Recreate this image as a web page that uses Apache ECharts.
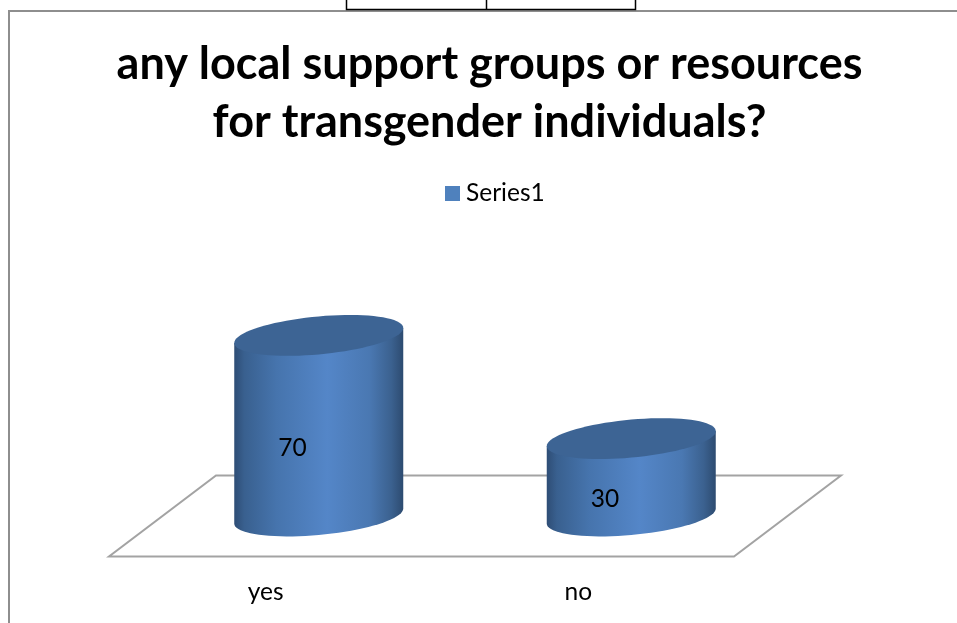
<!DOCTYPE html>
<html>
<head>
<meta charset="utf-8">
<style>
  html, body { margin: 0; padding: 0; background: #fff; }
  #chart { width: 957px; height: 623px; }
</style>
<script src="https://cdn.jsdelivr.net/npm/echarts@6/dist/echarts.min.js"></script>
</head>
<body>
<div id="chart"></div>
<script>
var titleText = "any local support groups or resources\nfor transgender individuals?";
var seriesName = "Series1";
var categories = ["yes", "no"];
var values = [70, 30];

var fontName = "Lato";
var capA = 19; // half height of the ellipse
var capTilt = 7.5; // rise of the ellipse from left to right side
var floorDx = 53.5;
var floorDy = 40.5;

// point on a tilted ellipse
function ellipsePt(cx, cy, a, t) {
  return [cx + a * Math.cos(t), cy + capA * Math.sin(t) - capTilt * Math.cos(t)];
}

function renderFloor(params, api) {
  var c = params.coordSys;
  var y0 = c.y + c.height;
  return {
    type: "polygon",
    shape: {
      points: [
        [c.x + floorDx, y0 - floorDy],
        [c.x + c.width + floorDx, y0 - floorDy],
        [c.x + c.width - floorDx, y0 + floorDy],
        [c.x - floorDx, y0 + floorDy]
      ]
    },
    style: { fill: "#fff", stroke: "#a3a3a3", lineWidth: 2 }
  };
}

function renderCylinder(params, api) {
  var base = api.coord([api.value(0), 0]);
  var top = api.coord([api.value(0), api.value(1)]);
  var a = api.size([1, 0])[0] * 0.2704;
  var i;
  // the body runs under the cap, so no seam shows at the top edge
  var body = [ellipsePt(top[0], top[1], a, 0), ellipsePt(top[0], top[1], a, Math.PI)];
  var cap = [];
  // near side of the bottom edge, left to right
  for (i = 40; i >= 0; i--) {
    body.push(ellipsePt(base[0], base[1], a, Math.PI * i / 40));
  }
  for (i = 0; i < 80; i++) {
    cap.push(ellipsePt(top[0], top[1], a, Math.PI * i / 40));
  }
  return {
    type: "group",
    children: [
      {
        type: "polygon",
        shape: { points: body },
        style: {
          fill: new echarts.graphic.LinearGradient(0, 0, 1, 0, [
            { offset: 0, color: "#2e4d75" },
            { offset: 0.06, color: "#39608f" },
            { offset: 0.25, color: "#4674ad" },
            { offset: 0.55, color: "#5486c8" },
            { offset: 0.8, color: "#4a78b2" },
            { offset: 0.93, color: "#3b618f" },
            { offset: 1, color: "#2d4b70" }
          ])
        }
      },
      {
        type: "polygon",
        shape: { points: cap },
        style: { fill: "#3d6494" }
      },
      {
        type: "text",
        style: {
          text: String(api.value(1)),
          x: base[0] - a * 0.31,
          y: base[1] - (base[1] - top[1]) / 2 + 22,
          fontFamily: fontName,
          fontSize: 24.5,
          fill: "#000",
          align: "center",
          verticalAlign: "middle"
        }
      }
    ]
  };
}

var chart = echarts.init(document.getElementById("chart"));
chart.setOption({
  animation: false,
  backgroundColor: "#fff",
  title: {
    text: titleText,
    left: 484.5,
    top: 30,
    textAlign: "center",
    textStyle: {
      fontFamily: fontName,
      fontWeight: "bold",
      fontSize: 45,
      lineHeight: 58,
      color: "#000"
    }
  },
  legend: {
    data: [{ name: seriesName, icon: "rect", itemStyle: { color: "#4f81bd" } }],
    left: 445,
    top: 181,
    padding: 0,
    itemWidth: 15,
    itemHeight: 15,
    itemGap: 6,
    textStyle: { fontFamily: fontName, fontSize: 24.5, color: "#000", padding: [0, 0, 2, 1] }
  },
  grid: { left: 162.5, width: 625, top: 258, height: 258 },
  xAxis: {
    type: "category",
    data: categories,
    axisLine: { show: false },
    axisTick: { show: false },
    axisLabel: {
      margin: 64,
      fontFamily: fontName,
      fontSize: 24.5,
      color: "#000",
      padding: [0, 106, 0, 0]
    }
  },
  yAxis: { type: "value", min: 0, max: 100, show: false },
  graphic: [
    // frame of the chart area
    {
      type: "polyline",
      shape: { points: [[9, 623], [9, 11], [957, 11]] },
      style: { fill: null, stroke: "#8e8e8e", lineWidth: 2 }
    },
    // piece of table above the chart
    {
      type: "polyline",
      shape: { points: [[346.5, 0], [346.5, 9.5], [635.5, 9.5], [635.5, 0]] },
      style: { fill: null, stroke: "#000", lineWidth: 1.5 }
    },
    {
      type: "line",
      shape: { x1: 486.5, y1: 0, x2: 486.5, y2: 9.5 },
      style: { stroke: "#000", lineWidth: 1.5 }
    }
  ],
  series: [
    {
      type: "custom",
      name: "floor",
      z: 1,
      silent: true,
      renderItem: renderFloor,
      data: [0]
    },
    {
      type: "custom",
      name: seriesName,
      z: 2,
      renderItem: renderCylinder,
      encode: { x: 0, y: 1 },
      data: categories.map(function (c, i) { return [i, values[i]]; })
    }
  ]
});
</script>
</body>
</html>
